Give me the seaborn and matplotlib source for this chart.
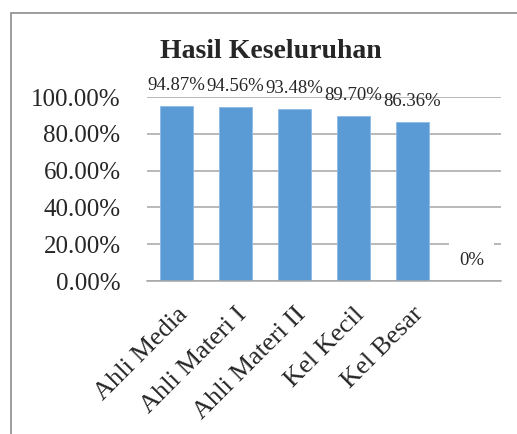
import matplotlib
matplotlib.use("Agg")
import matplotlib.pyplot as plt
import seaborn as sns
import pandas as pd
from matplotlib.patches import Rectangle

categories = ["Ahli Media", "Ahli Materi I", "Ahli Materi II", "Kel Kecil", "Kel Besar", ""]
values = [94.87, 94.56, 93.48, 89.70, 86.36, 0.0]
value_labels = ["94.87%", "94.56%", "93.48%", "89.70%", "86.36%", "0%"]
y_ticks = [0, 20, 40, 60, 80, 100]

sns.set_style("white")
plt.rcParams['font.family'] = ['Liberation Serif', 'DejaVu Serif']

df = pd.DataFrame({'kategori': categories, 'nilai': values})

fig = plt.figure(figsize = (5.17, 4.34), dpi = 100)
ax = fig.add_axes([147 / 517, 1 - 281 / 434, (501 - 147) / 517, (281 - 97) / 434])

sns.barplot(data = df, x = 'kategori', y = 'nilai', color = '#5B9BD5',
            width = 0.56, saturation = 1, edgecolor = '#8DB9E6', linewidth = 0.6, ax = ax)

ax.set_ylim(0, 100)
ax.set_xlim(-0.5, len(categories) - 0.5)
ax.set_yticks(y_ticks)
ax.set_yticklabels([f"{t:.2f}%" for t in y_ticks], fontsize = 18)
ax.yaxis.grid(True, color = '#a6a6a6', linewidth = 1.1)
ax.set_axisbelow(True)
for side in ['top', 'right', 'left']:
    ax.spines[side].set_visible(False)
ax.spines['bottom'].set_color('#a6a6a6')
ax.spines['bottom'].set_linewidth(1.1)
ax.tick_params(axis = 'y', length = 0, pad = 19)
ax.tick_params(axis = 'x', length = 0, pad = 16)
ax.set_xlabel("")
ax.set_ylabel("")
plt.setp(ax.get_xticklabels(), rotation = 45, ha = 'right', va = 'top',
         rotation_mode = 'anchor', fontsize = 19)

for i, (v, lab) in enumerate(zip(values, value_labels)):
    kw = {}
    if v == 0:
        kw['bbox'] = dict(facecolor = 'white', edgecolor = 'none', pad = 7)
    ax.annotate(lab, (i, v), xytext = (0, 15), textcoords = 'offset points',
                ha = 'center', va = 'center', fontsize = 13.5, **kw)

fig.text(271 / 517, 1 - 51 / 434, "Hasil Keseluruhan", ha = 'center', va = 'center',
         fontsize = 20, fontweight = 'bold')

fig.add_artist(Rectangle((11 / 517, -0.1), 1.2, 1 - 13 / 434 + 0.1, transform = fig.transFigure,
                         fill = False, edgecolor = '#8c8c8c', linewidth = 1.2))

fig.savefig("out.png", dpi = 100)
